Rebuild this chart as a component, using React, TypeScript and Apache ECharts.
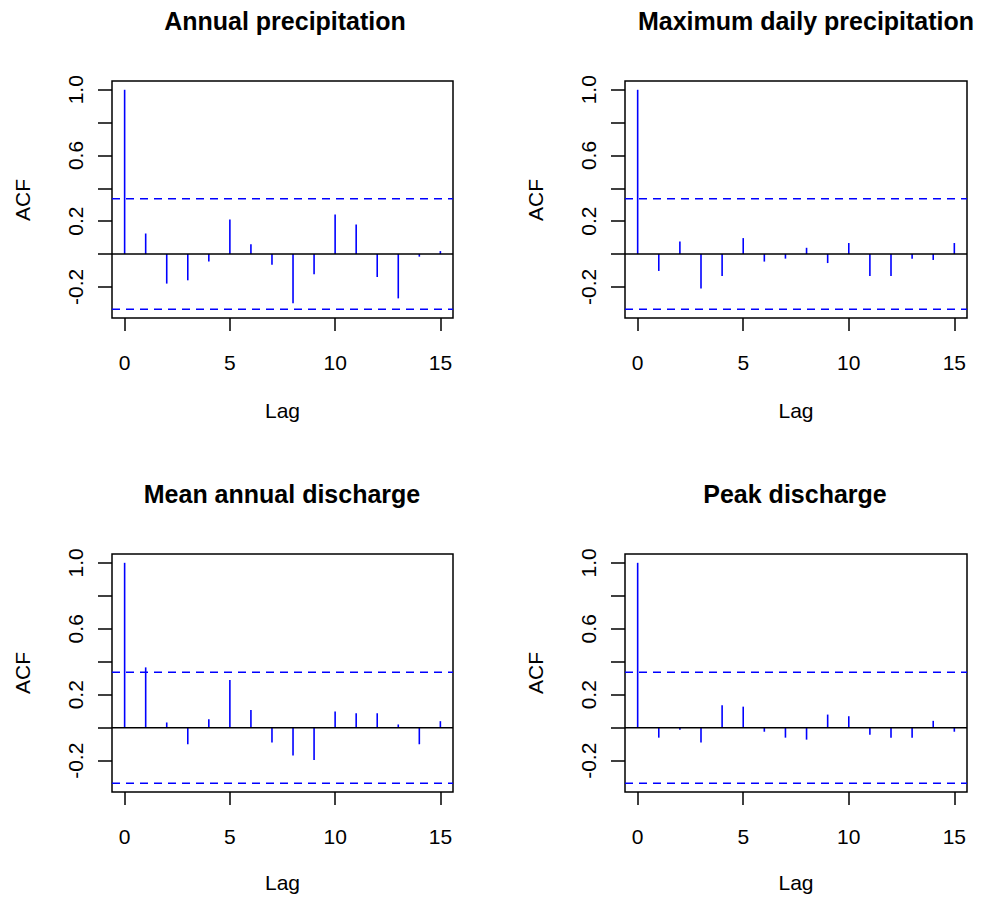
import React, { useEffect, useRef } from "react";
import * as echarts from "echarts";

const LAGS = [0, 1, 2, 3, 4, 5, 6, 7, 8, 9, 10, 11, 12, 13, 14, 15];
const TITLES = [
  "Annual precipitation",
  "Maximum daily precipitation",
  "Mean annual discharge",
  "Peak discharge",
];
const annualPrecipitation = [1.0, 0.125, -0.18, -0.16, -0.046, 0.21, 0.059, -0.065, -0.3, -0.123, 0.24, 0.18, -0.14, -0.27, -0.016, 0.018];
const maxDailyPrecipitation = [1.0, -0.103, 0.077, -0.21, -0.133, 0.097, -0.046, -0.028, 0.038, -0.055, 0.067, -0.133, -0.133, -0.028, -0.036, 0.067];
const meanAnnualDischarge = [1.0, 0.366, 0.032, -0.1, 0.052, 0.29, 0.108, -0.09, -0.168, -0.196, 0.098, 0.088, 0.088, 0.02, -0.1, 0.04];
const peakDischarge = [1.0, -0.06, -0.012, -0.09, 0.136, 0.128, -0.024, -0.06, -0.072, 0.08, 0.07, -0.042, -0.06, -0.06, 0.042, -0.024];
const CI_LEVEL = 0.336;
const X_TICKS = [0, 5, 10, 15];
const Y_TICKS = [-0.2, 0, 0.2, 0.4, 0.6, 0.8, 1.0];
const Y_LABELS = [-0.2, 0.2, 0.6, 1.0];
const X_LABEL = "Lag";
const Y_LABEL = "ACF";

const SERIES = [annualPrecipitation, maxDailyPrecipitation, meanAnnualDischarge, peakDischarge];

const FONT = "'Liberation Sans', Arial, Helvetica, sans-serif";
const XMIN = -0.6;
const XMAX = 15.6;

const PANELS = [
  { left: 112, top: 81, width: 341, height: 237, titleX: 285, titleY: 21, acfY: 200 },
  { left: 625, top: 81, width: 342, height: 237, titleX: 806, titleY: 21, acfY: 200 },
  { left: 112, top: 554, width: 341, height: 238, titleX: 282, titleY: 494, acfY: 673 },
  { left: 625, top: 554, width: 342, height: 238, titleX: 795, titleY: 494, acfY: 673 },
];
const ACF_X = [22.5, 535];

export default function App() {
  const ref = useRef<HTMLDivElement>(null);
  useEffect(() => {
    if (!ref.current) return;
    const chart = echarts.init(ref.current, undefined, { renderer: "svg" });

    const grids: any[] = [];
    const xAxes: any[] = [];
    const yAxes: any[] = [];
    const series: any[] = [];
    const graphics: any[] = [];

    SERIES.forEach((vals, i) => {
      const p = PANELS[i];
      const lo = Math.min(-CI_LEVEL, ...vals);
      const hi = Math.max(CI_LEVEL, ...vals);
      const pad = (hi - lo) * 0.04;
      grids.push({
        left: p.left,
        top: p.top,
        width: p.width,
        height: p.height,
        show: true,
        borderColor: "#000",
        borderWidth: 1.5,
        backgroundColor: "transparent",
        containLabel: false,
      });
      xAxes.push({
        gridIndex: i,
        type: "value",
        position: "bottom",
        min: XMIN,
        max: XMAX,
        axisLine: { show: false, onZero: false },
        splitLine: { show: false },
        axisTick: {
          show: true,
          inside: false,
          length: 13,
          customValues: X_TICKS,
          lineStyle: { color: "#000", width: 1.5 },
        },
        axisLabel: {
          show: true,
          customValues: X_TICKS,
          margin: 34,
          fontSize: 21,
          color: "#000",
          fontFamily: FONT,
        },
        name: X_LABEL,
        nameLocation: "middle",
        nameGap: i < 2 ? 82 : 80,
        nameTextStyle: { fontSize: 21, color: "#000", fontFamily: FONT },
      });
      yAxes.push({
        gridIndex: i,
        type: "value",
        position: "left",
        min: lo - pad,
        max: hi + pad,
        axisLine: { show: false, onZero: false },
        splitLine: { show: false },
        axisTick: {
          show: true,
          inside: false,
          length: 14,
          customValues: Y_TICKS,
          lineStyle: { color: "#000", width: 1.5 },
        },
        axisLabel: {
          show: true,
          customValues: Y_LABELS,
          rotate: 90,
          margin: 26,
          fontSize: 21,
          color: "#000",
          fontFamily: FONT,
          formatter: (v: number) => v.toFixed(1),
        },
      });
      series.push({
        type: "custom",
        xAxisIndex: i,
        yAxisIndex: i,
        z: 3,
        clip: true,
        data: LAGS.map((l, k) => [l, vals[k]]),
        renderItem: (_params: any, api: any) => {
          const x = api.value(0);
          const y = api.value(1);
          const p0 = api.coord([x, 0]);
          const p1 = api.coord([x, y]);
          return {
            type: "line",
            shape: { x1: p0[0], y1: p0[1], x2: p1[0], y2: p1[1] },
            style: { stroke: "#0000FF", lineWidth: 1.6 },
          };
        },
      });
      series.push({
        type: "line",
        xAxisIndex: i,
        yAxisIndex: i,
        z: 4,
        symbol: "none",
        silent: true,
        data: [
          [XMIN, 0],
          [XMAX, 0],
        ],
        lineStyle: { color: "#000", width: 1.5 },
      });
      [CI_LEVEL, -CI_LEVEL].forEach((c) => {
        series.push({
          type: "line",
          xAxisIndex: i,
          yAxisIndex: i,
          z: 5,
          symbol: "none",
          silent: true,
          data: [
            [XMIN, c],
            [XMAX, c],
          ],
          lineStyle: { color: "#0000FF", width: 1.5, type: [8, 6] },
        });
      });
      graphics.push({
        type: "text",
        x: p.titleX,
        y: p.titleY,
        style: {
          text: TITLES[i],
          font: `bold 25px ${FONT}`,
          fill: "#000",
          align: "center",
          verticalAlign: "middle",
          textAlign: "center",
          textVerticalAlign: "middle",
        },
      });
      graphics.push({
        type: "text",
        x: ACF_X[i % 2],
        y: p.acfY,
        rotation: Math.PI / 2,
        style: {
          text: Y_LABEL,
          font: `21px ${FONT}`,
          fill: "#000",
          align: "center",
          verticalAlign: "middle",
          textAlign: "center",
          textVerticalAlign: "middle",
        },
      });
    });

    chart.setOption({
      animation: false,
      backgroundColor: "#fff",
      textStyle: { fontFamily: FONT },
      grid: grids,
      xAxis: xAxes,
      yAxis: yAxes,
      series,
      graphic: graphics,
    });
    return () => chart.dispose();
  }, []);
  return (
    <div
      ref={ref}
      style={{ position: "absolute", left: 0, top: 0, width: 981, height: 900 }}
    />
  );
}
